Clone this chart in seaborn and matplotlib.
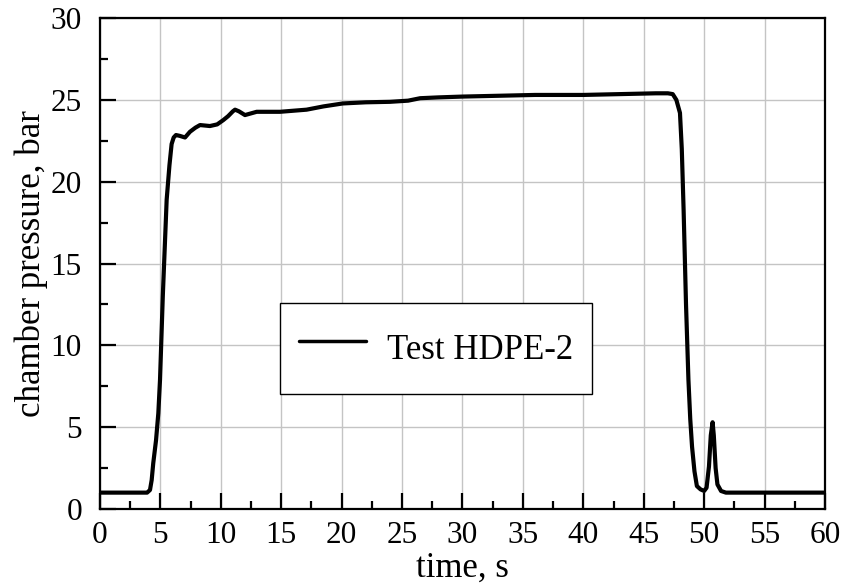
import numpy as np
import pandas as pd
import matplotlib
matplotlib.use("Agg")
import matplotlib.pyplot as plt
import seaborn as sns

# chamber pressure trace
time_s = [0.0, 3.9, 4.14, 4.28, 4.41, 4.64, 4.83, 4.97, 5.2, 5.52, 5.75, 5.93, 6.1, 6.29,
          6.6, 7.04, 7.45, 7.9, 8.28, 9.1, 9.7, 10.2, 10.6, 11.0, 11.18, 11.5, 12.0,
          12.97, 14.9, 17.1, 18.5, 20.1, 22.0, 24.0, 25.5, 26.5, 28.0, 30.0, 33.0,
          36.0, 40.0, 43.0, 46.0, 47.0, 47.4, 47.7, 48.0, 48.15, 48.3, 48.5, 48.7,
          48.85, 49.0, 49.2, 49.4, 49.7, 50.0, 50.2, 50.4, 50.55, 50.7, 50.8, 50.95,
          51.1, 51.4, 51.8, 55.0, 60.0]
pressure_bar = [1.0, 1.0, 1.16, 1.77, 2.8, 4.2, 5.85, 7.9, 13.0, 18.9, 21.0, 22.3, 22.7,
                22.85, 22.8, 22.7, 23.05, 23.3, 23.46, 23.4, 23.5, 23.76, 24.0, 24.3,
                24.4, 24.3, 24.07, 24.27, 24.27, 24.4, 24.6, 24.78, 24.85, 24.88, 24.95,
                25.1, 25.15, 25.2, 25.25, 25.3, 25.3, 25.35, 25.4, 25.4, 25.35, 25.0,
                24.2, 22.0, 18.3, 12.5, 7.9, 5.5, 3.8, 2.3, 1.4, 1.2, 1.1, 1.3, 2.6, 4.5,
                5.3, 4.5, 2.5, 1.5, 1.1, 1.0, 1.0, 1.0]
series_label = "Test HDPE-2"

df = pd.DataFrame({"time": time_s, "pressure": pressure_bar, "test": series_label})

sns.set_style("ticks")
plt.rcParams["font.family"] = ["Liberation Serif", "DejaVu Serif"]
plt.rcParams["text.color"] = "black"
plt.rcParams["axes.labelcolor"] = "black"
plt.rcParams["xtick.color"] = "black"
plt.rcParams["ytick.color"] = "black"

fig = plt.figure(figsize=(8.45, 5.87), dpi=100)
ax = fig.add_axes([0.1183, 0.1329, 0.858, 0.8364])

sns.lineplot(data=df, x="time", y="pressure", hue="test", palette=["black"],
             linewidth=3, ax=ax, zorder=3)

ax.set_xlim(0, 60)
ax.set_ylim(0, 30)
ax.set_xticks(np.arange(0, 61, 5))
ax.set_yticks(np.arange(0, 31, 5))
ax.set_xticks(np.arange(0, 61, 2.5), minor=True)
ax.set_yticks(np.arange(0, 31, 2.5), minor=True)
ax.grid(True, which="major", color="#c4c4c4", linewidth=1.0)
ax.tick_params(which="major", direction="in", length=11.5, width=1.6, labelsize=22.5,
               colors="black")
ax.tick_params(axis="x", which="major", pad=9)
ax.tick_params(axis="y", which="major", pad=13)
ax.tick_params(which="minor", direction="in", length=5.8, width=1.6, colors="black")
for sp in ax.spines.values():
    sp.set_linewidth(1.6)
    sp.set_color("black")

ax.set_xlabel("time, s", fontsize=25, labelpad=1)
ax.set_ylabel("chamber pressure, bar", fontsize=25, labelpad=2)

leg = ax.legend(loc="center", bbox_to_anchor=(0.4634, 0.327), fontsize=25,
                frameon=True, fancybox=False, edgecolor="black", framealpha=1,
                handlelength=1.95, handleheight=2.0, handletextpad=0.6,
                borderpad=0.55, borderaxespad=0)
leg.get_frame().set_linewidth(1.0)
for t in leg.get_texts():
    t.set_color("black")
for h in leg.get_lines():
    h.set_linewidth(2.5)

fig.savefig("out.png", dpi=100)
